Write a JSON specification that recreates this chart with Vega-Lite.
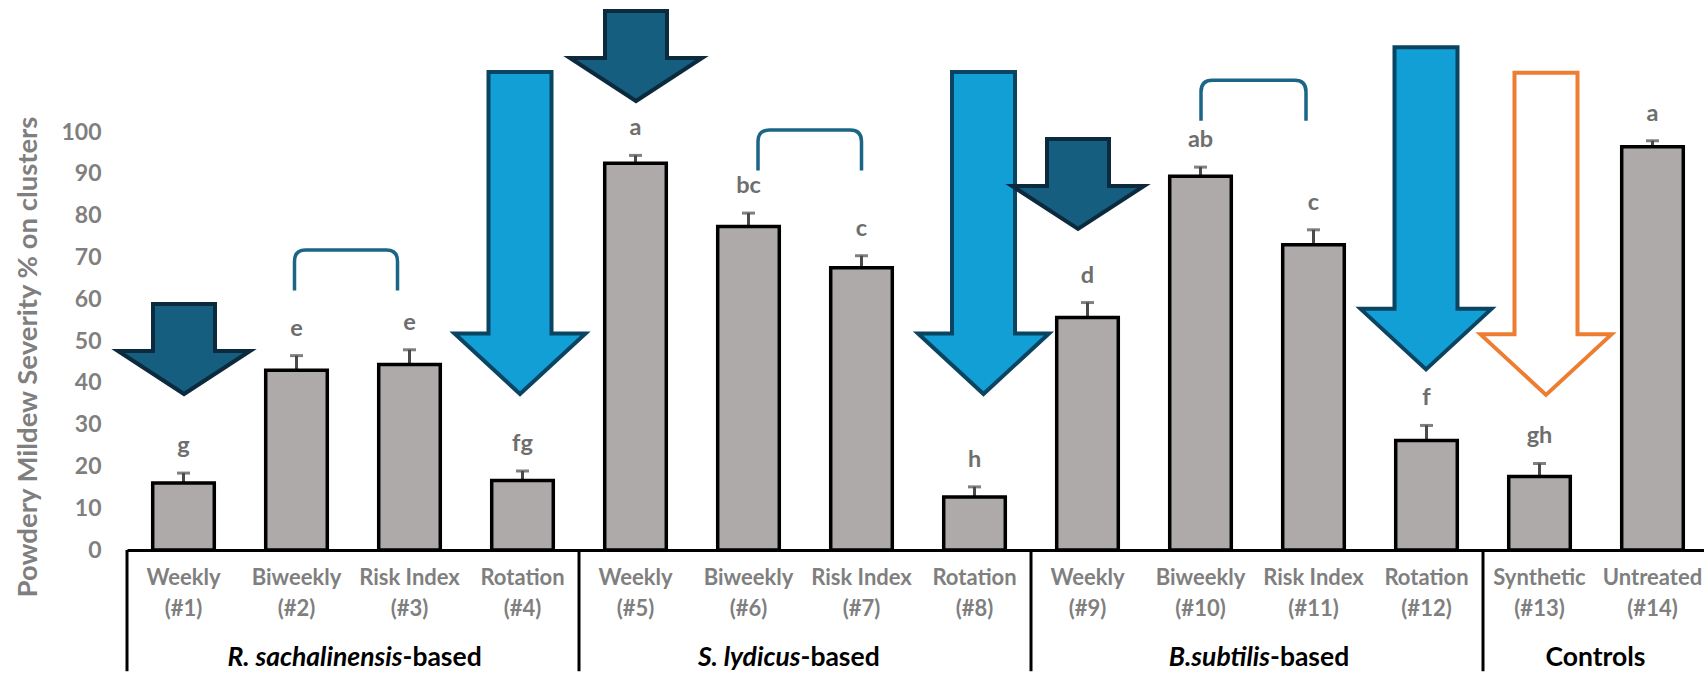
{
  "$schema": "https://vega.github.io/schema/vega-lite/v6.json",
  "autosize": {"type": "none"},
  "padding": {"left": 127, "top": 132, "right": 0, "bottom": 131},
  "width": 1577,
  "height": 418,
  "background": "white",
  "config": {
    "view": {"stroke": null},
    "font": "Lato",
    "axis": {"labelFont": "Lato", "titleFont": "Lato"},
    "text": {"font": "Lato"}
  },
  "datasets": {
    "bars": [
      {"trt": "Weekly (#1)", "group": "R. sachalinensis-based", "sev": 16.0, "se": 2.4, "letter": "g"},
      {"trt": "Biweekly (#2)", "group": "R. sachalinensis-based", "sev": 43.0, "se": 3.5, "letter": "e"},
      {"trt": "Risk Index (#3)", "group": "R. sachalinensis-based", "sev": 44.4, "se": 3.5, "letter": "e"},
      {"trt": "Rotation (#4)", "group": "R. sachalinensis-based", "sev": 16.6, "se": 2.3, "letter": "fg"},
      {"trt": "Weekly (#5)", "group": "S. lydicus-based", "sev": 92.5, "se": 1.9, "letter": "a"},
      {"trt": "Biweekly (#6)", "group": "S. lydicus-based", "sev": 77.4, "se": 3.2, "letter": "bc"},
      {"trt": "Risk Index (#7)", "group": "S. lydicus-based", "sev": 67.5, "se": 2.9, "letter": "c"},
      {"trt": "Rotation (#8)", "group": "S. lydicus-based", "sev": 12.7, "se": 2.4, "letter": "h"},
      {"trt": "Weekly (#9)", "group": "B.subtilis-based", "sev": 55.6, "se": 3.6, "letter": "d"},
      {"trt": "Biweekly (#10)", "group": "B.subtilis-based", "sev": 89.4, "se": 2.2, "letter": "ab"},
      {"trt": "Risk Index (#11)", "group": "B.subtilis-based", "sev": 73.0, "se": 3.6, "letter": "c"},
      {"trt": "Rotation (#12)", "group": "B.subtilis-based", "sev": 26.2, "se": 3.6, "letter": "f"},
      {"trt": "Synthetic (#13)", "group": "Controls", "sev": 17.6, "se": 3.1, "letter": "gh"},
      {"trt": "Untreated (#14)", "group": "Controls", "sev": 96.5, "se": 1.4, "letter": "a"}
    ],
    "arrows": [
      {"trt": "Weekly (#1)", "id": "a1", "kind": "dark", "tip": 36.6},
      {"trt": "Rotation (#4)", "id": "a4", "kind": "light", "tip": 36.6},
      {"trt": "Weekly (#5)", "id": "a5", "kind": "dark", "tip": 106.7},
      {"trt": "Rotation (#8)", "id": "a8", "kind": "light", "tip": 36.6},
      {"trt": "Weekly (#9)", "id": "a9", "kind": "dark", "tip": 76.1},
      {"trt": "Rotation (#12)", "id": "a12", "kind": "light", "tip": 42.5},
      {"trt": "Synthetic (#13)", "id": "a13", "kind": "open", "tip": 36.4}
    ],
    "brackets": [
      {"trt": "Biweekly (#2)", "id": "b1", "foot": 62.1},
      {"trt": "Biweekly (#6)", "id": "b2", "foot": 90.8},
      {"trt": "Biweekly (#10)", "id": "b3", "foot": 102.7}
    ],
    "groups": [
      {"trt": "Biweekly (#2)", "first": "Weekly (#1)", "id": "g1", "species": "R. sachalinensis", "suffix": "-based"},
      {"trt": "Biweekly (#6)", "first": "Weekly (#5)", "id": "g2", "species": "S. lydicus", "suffix": "-based"},
      {"trt": "Biweekly (#10)", "first": "Weekly (#9)", "id": "g3", "species": "B.subtilis", "suffix": "-based"},
      {"trt": "Synthetic (#13)", "first": "Synthetic (#13)", "id": "g4", "species": "", "suffix": "Controls"}
    ]
  },
  "encoding": {
    "x": {
      "field": "trt",
      "type": "nominal",
      "scale": {
        "domain": ["Weekly (#1)", "Biweekly (#2)", "Risk Index (#3)", "Rotation (#4)", "Weekly (#5)", "Biweekly (#6)", "Risk Index (#7)", "Rotation (#8)", "Weekly (#9)", "Biweekly (#10)", "Risk Index (#11)", "Rotation (#12)", "Synthetic (#13)", "Untreated (#14)"],
        "range": [0, 1582],
        "paddingInner": 0.455,
        "paddingOuter": 0.2275
      },
      "axis": {
        "title": null,
        "labelAngle": 0,
        "labelExpr": "[substring(datum.label, 0, indexof(datum.label, ' (')), substring(datum.label, indexof(datum.label, ' (') + 1)]",
        "labelFontSize": 22,
        "labelFontWeight": "bold",
        "labelColor": "#7f7f7f",
        "labelLineHeight": 31,
        "labelPadding": 17,
        "labelOverlap": false,
        "ticks": false,
        "domainColor": "#000000",
        "domainWidth": 3,
        "grid": false
      }
    }
  },
  "layer": [
    {
      "data": {"name": "bars"},
      "mark": {"type": "errorbar", "ticks": {"size": 13}, "thickness": 3, "color": "#4a4a4a"},
      "encoding": {
        "y": {"field": "sev", "type": "quantitative", "title": "Powdery Mildew Severity % on clusters"},
        "yError": {"field": "se"}
      }
    },
    {
      "data": {"name": "bars"},
      "mark": {"type": "bar", "fill": "#aeaaaa", "stroke": "#000000", "strokeWidth": 3.5},
      "encoding": {
        "y": {
          "field": "sev",
          "type": "quantitative",
          "scale": {"domain": [0, 100], "nice": false},
          "title": "Powdery Mildew Severity % on clusters",
          "axis": {
            "values": [0, 10, 20, 30, 40, 50, 60, 70, 80, 90, 100],
            "domain": false,
            "ticks": false,
            "grid": false,
            "labelFontSize": 23,
            "labelFontWeight": "bold",
            "labelColor": "#7f7f7f",
            "labelPadding": 26,
            "titleFontSize": 27.5,
            "titleFontWeight": "bold",
            "titleColor": "#7f7f7f",
            "titleAngle": -90,
            "titleAlign": "center",
            "titleBaseline": "middle",
            "titleX": -99,
            "titleY": 224.5
          }
        }
      }
    },
    {
      "data": {"name": "groups"},
      "mark": {"type": "rule", "color": "#000000", "strokeWidth": 3, "xOffset": -25.7},
      "encoding": {
        "x": {"field": "first", "type": "nominal", "bandPosition": 0},
        "y": {"datum": 0},
        "y2": {"datum": -29}
      }
    },
    {
      "data": {"name": "bars"},
      "transform": [{"calculate": "datum.sev + datum.se", "as": "upper"}],
      "mark": {"type": "text", "fontSize": 23.5, "fontWeight": "bold", "color": "#6e6e6e", "baseline": "middle", "dy": -27},
      "encoding": {
        "y": {"field": "upper", "type": "quantitative", "title": "Powdery Mildew Severity % on clusters"},
        "text": {"field": "letter"}
      }
    },
    {
      "data": {"name": "brackets"},
      "mark": {"type": "point", "filled": false, "size": 4, "opacity": 1, "color": "#1b6587", "strokeWidth": 3.5},
      "encoding": {
        "y": {"field": "foot", "type": "quantitative", "title": "Powdery Mildew Severity % on clusters"},
        "shape": {
          "field": "id",
          "legend": null,
          "scale": {
            "domain": ["b1", "b2", "b3"],
            "range": [
              "M-2,0L-2,-29Q-2,-40.5 9,-40.5L90,-40.5Q101,-40.5 101,-29L101,0",
              "M9.5,0L9.5,-29Q9.5,-40.5 21,-40.5L101.5,-40.5Q113,-40.5 113,-29L113,0",
              "M0.5,0L0.5,-29Q0.5,-40.5 12,-40.5L94,-40.5Q105.5,-40.5 105.5,-29L105.5,0"
            ]
          }
        }
      }
    },
    {
      "data": {"name": "arrows"},
      "mark": {"type": "point", "filled": true, "size": 4, "opacity": 1, "strokeWidth": 4, "strokeOpacity": 1, "fillOpacity": 1},
      "encoding": {
        "y": {"field": "tip", "type": "quantitative", "title": "Powdery Mildew Severity % on clusters"},
        "shape": {
          "field": "id",
          "legend": null,
          "scale": {
            "domain": ["a1", "a4", "a5", "a8", "a9", "a12", "a13"],
            "range": [
              "M0.5,-3L-65.5,-46L-30.5,-46L-30.5,-93L31.5,-93L31.5,-46L66.5,-46Z",
              "M-2.5,-3L-68,-63.5L-34,-63.5L-34,-325L29,-325L29,-63.5L63,-63.5Z",
              "M0.5,-3L-65.5,-46L-30.5,-46L-30.5,-93L31.5,-93L31.5,-46L66.5,-46Z",
              "M9,-3L-56.5,-63.5L-22.5,-63.5L-22.5,-325L40.5,-325L40.5,-63.5L74.5,-63.5Z",
              "M-9.5,-3L-75.5,-46L-40.5,-46L-40.5,-93L21.5,-93L21.5,-46L56.5,-46Z",
              "M-0.5,-3L-66,-63.5L-32,-63.5L-32,-325L31,-325L31,-63.5L65,-63.5Z",
              "M6.5,-3L-59,-63.5L-25,-63.5L-25,-325L38,-325L38,-63.5L72,-63.5Z"
            ]
          }
        },
        "fill": {
          "field": "kind",
          "legend": null,
          "scale": {"domain": ["dark", "light", "open"], "range": ["#165e80", "#119fd6", "#ffffff"]}
        },
        "stroke": {
          "field": "kind",
          "legend": null,
          "scale": {"domain": ["dark", "light", "open"], "range": ["#0c2a3d", "#0b4461", "#ed7d31"]}
        }
      }
    },
    {
      "data": {"name": "groups"},
      "transform": [{"filter": "datum.id === 'g1'"}],
      "mark": {"type": "text", "fontSize": 26.5, "fontWeight": "bold", "fontStyle": "italic", "color": "#000000", "align": "right", "baseline": "middle", "dx": 106, "dy": 108},
      "encoding": {"y": {"datum": 0}, "text": {"field": "species"}}
    },
    {
      "data": {"name": "groups"},
      "transform": [{"filter": "datum.id === 'g1'"}],
      "mark": {"type": "text", "fontSize": 26.5, "fontWeight": "bold", "color": "#000000", "align": "left", "baseline": "middle", "dx": 106, "dy": 108},
      "encoding": {"y": {"datum": 0}, "text": {"field": "suffix"}}
    },
    {
      "data": {"name": "groups"},
      "transform": [{"filter": "datum.id === 'g2'"}],
      "mark": {"type": "text", "fontSize": 26.5, "fontWeight": "bold", "fontStyle": "italic", "color": "#000000", "align": "right", "baseline": "middle", "dx": 52, "dy": 108},
      "encoding": {"y": {"datum": 0}, "text": {"field": "species"}}
    },
    {
      "data": {"name": "groups"},
      "transform": [{"filter": "datum.id === 'g2'"}],
      "mark": {"type": "text", "fontSize": 26.5, "fontWeight": "bold", "color": "#000000", "align": "left", "baseline": "middle", "dx": 52, "dy": 108},
      "encoding": {"y": {"datum": 0}, "text": {"field": "suffix"}}
    },
    {
      "data": {"name": "groups"},
      "transform": [{"filter": "datum.id === 'g3'"}],
      "mark": {"type": "text", "fontSize": 26.5, "fontWeight": "bold", "fontStyle": "italic", "color": "#000000", "align": "right", "baseline": "middle", "dx": 69.5, "dy": 108},
      "encoding": {"y": {"datum": 0}, "text": {"field": "species"}}
    },
    {
      "data": {"name": "groups"},
      "transform": [{"filter": "datum.id === 'g3'"}],
      "mark": {"type": "text", "fontSize": 26.5, "fontWeight": "bold", "color": "#000000", "align": "left", "baseline": "middle", "dx": 69.5, "dy": 108},
      "encoding": {"y": {"datum": 0}, "text": {"field": "suffix"}}
    },
    {
      "data": {"name": "groups"},
      "transform": [{"filter": "datum.id === 'g4'"}],
      "mark": {"type": "text", "fontSize": 26.5, "fontWeight": "bold", "color": "#000000", "align": "center", "baseline": "middle", "dx": 56, "dy": 108},
      "encoding": {"y": {"datum": 0}, "text": {"field": "suffix"}}
    }
  ],
  "resolve": {"scale": {"shape": "independent"}}
}
